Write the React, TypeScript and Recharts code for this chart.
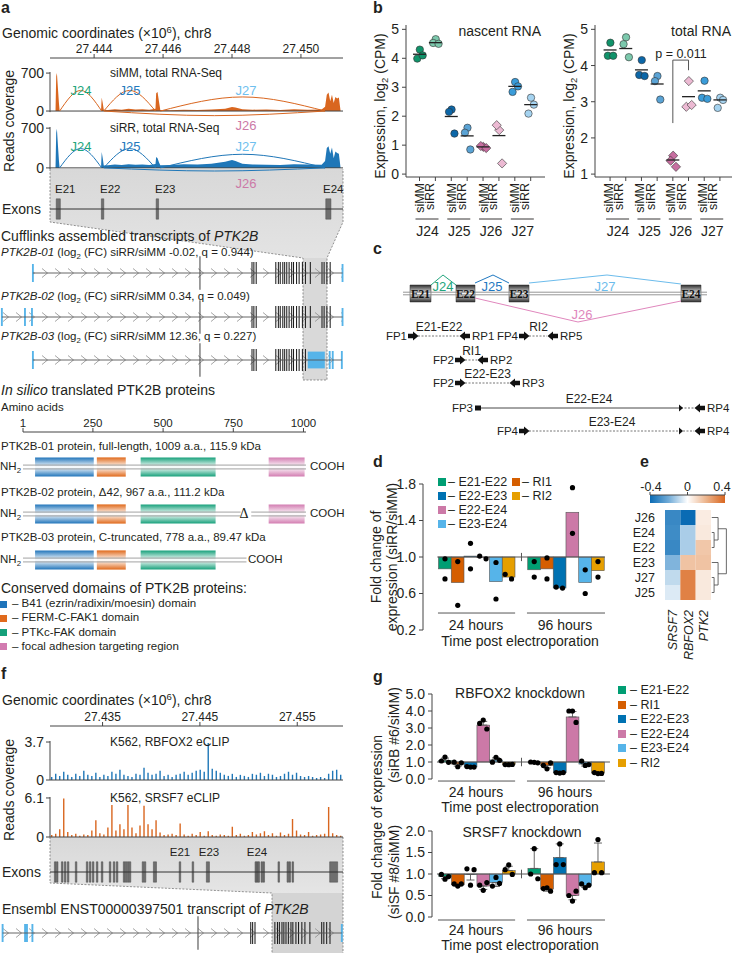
import React from "react";
import {
  ComposedChart,
  Area,
  Bar,
  Scatter,
  XAxis,
  YAxis,
  ReferenceLine,
  ReferenceArea,
  Cell,
  ErrorBar,
} from "recharts";

const FONT = "'Liberation Sans', Arial, Helvetica, sans-serif";
const SERIF = "'Liberation Serif', 'Times New Roman', serif";
const INK = "#231f20";
const AXIS = "#444";

const GREEN = "#009E73";
const ORANGE = "#D55E00";
const DBLUE = "#0072B2";
const PINK = "#CC79A7";
const LBLUE = "#56B4E9";
const YELLOW = "#E69F00";

// ---------- a: RNA-seq coverage around E21-E24 (chr8, Mb)
const aWindow = [27.44272, 27.45122];
const aTicks = [27.444, 27.446, 27.448, 27.45];
const covPos = [
  27.44275, 27.44288, 27.4429, 27.44292, 27.44295, 27.44298, 27.443, 27.4442, 27.44422, 27.44425,
  27.44428, 27.4444, 27.4446, 27.4448, 27.445, 27.4452, 27.4454, 27.4456, 27.44578, 27.4458,
  27.44584, 27.44588, 27.44592, 27.4462, 27.4466, 27.447, 27.4474, 27.4478, 27.448, 27.4481,
  27.4483, 27.4486, 27.449, 27.4494, 27.4498, 27.4502, 27.4506, 27.4507, 27.45075, 27.4508,
  27.45085, 27.4509, 27.45095, 27.451, 27.45105, 27.4511, 27.45115,
];
const covSiMM = [
  0, 0, 640, 700, 420, 140, 0, 0, 250, 150, 25, 20, 35, 25, 40, 30, 35, 25, 40, 330, 350, 180, 20, 15,
  25, 20, 30, 40, 75, 65, 35, 25, 30, 20, 35, 25, 30, 80, 300, 340, 180, 300, 150, 260, 230, 250, 0,
];
const covSiRR = [
  0, 0, 620, 690, 400, 120, 0, 0, 280, 170, 40, 45, 60, 50, 65, 55, 60, 50, 70, 190, 170, 100, 45, 50,
  65, 60, 75, 110, 140, 120, 75, 60, 55, 50, 65, 60, 55, 120, 350, 380, 250, 360, 170, 290, 260, 250, 0,
];
const juncNames = ["J24", "J25", "J27", "J26"];
const juncStart = [27.443, 27.44428, 27.44592, 27.44428];
const juncEnd = [27.44422, 27.44578, 27.4507, 27.4507];
const juncHeightMM = [380, 380, 260, -85];
const juncHeightRR = [340, 340, 240, -55];
const aExonStart = [27.4429, 27.44421, 27.4458, 27.45072];
const aExonEnd = [27.44302, 27.44428, 27.44587, 27.45087];

// transcripts, kb along the PTK2B gene
const ptk2bCds = [
  106.0, 106.8, 107.8, 116.2, 117.3, 118.1, 119.2, 120.0, 120.9, 121.9, 123.0, 123.8, 125.1, 126.2,
  127.6, 128.9, 131.0, 136.0, 136.9, 138.1, 139.5,
];
const ptk2bLongExon = 83.7;
const tx01Utr = [12.1, 144.8];
const tx02Utr = [-1.2, 8.7, 11.7, 144.8];
const tx03Utr = [12.1, 139.3, 140.6, 144.5];
const tx03Box = [129.9, 137.2];
const ensemblUtr = [1.1, 10.6, 11.4, 13.7, 144.5];

// proteins (amino acids)
const domainNames = [
  "B41 (ezrin/radixin/moesin) domain",
  "FERM-C-FAK1 domain",
  "PTKc-FAK domain",
  "focal adhesion targeting region",
];
const domainColors = ["#1f74ba", "#e06a1c", "#15a07a", "#d27bb0"];
const domStart = [44, 264, 420, 876];
const domEnd = [253, 367, 687, 1004];

// ---------- b: junction expression, log2 CPM
const bJunctions = ["J24", "J25", "J26", "J27"];
const bConditions = ["siMM", "siRR"];
const nascentRNA = [
  [4.3, 3.99, 4.1], [4.66, 4.53, 4.5], [2.23, 2.15, 1.4], [1.6, 1.43, 0.85],
  [0.94, 0.97, 0.9], [1.52, 1.69, 0.37], [3.18, 2.84, 3.03], [2.64, 2.09, 2.4],
];
const nascentMean = [4.14, 4.54, 1.99, 1.32, 0.94, 1.33, 3.03, 2.4];
const totalRNA = [
  [4.63, 4.27, 4.27], [4.78, 4.59, 4.23], [4.15, 3.74, 3.71], [3.71, 3.57, 3.06],
  [1.51, 1.37, 1.2], [3.57, 2.86, 2.91], [3.58, 3.11, 3.08], [3.11, 2.83, 3.05],
];
const totalMean = [4.43, 4.47, 3.88, 3.49, 1.39, 3.14, 3.3, 3.05];
const bColors = ["#10936a", "#7cc9ad", "#0c67a8", "#5aa3d5", "#c76ea0", "#ecbad3", "#3a9cd9", "#a5d3f0"];
const bJitter = [0.02, -0.14, 0.2];

// ---------- d, g: RT-qPCR fold changes
const amplicons = ["E21-E22", "RI1", "E22-E23", "E22-E24", "E23-E24", "RI2"];
const ampColors = [GREEN, ORANGE, DBLUE, PINK, LBLUE, YELLOW];
const dFold24 = [0.87, 0.72, 1.01, 0.995, 0.73, 0.78];
const dFold96 = [0.86, 0.87, 0.66, 1.49, 0.72, 0.85];
const dReps24 = [[0.98, 0.76], [0.95, 0.47], [1.15, 0.87], [1.01, 0.98], [0.94, 0.54], [0.81, 0.76]];
const dReps96 = [[0.95, 0.78], [0.99, 0.76], [0.67, 0.66], [1.76, 1.26], [0.86, 0.6], [0.95, 0.78]];

const rbMean24 = [1.1, 0.88, 0.71, 3.17, 1.12, 0.85];
const rbMean96 = [0.98, 0.8, 0.37, 3.65, 0.88, 0.35];
const rbErr24 = [0.13, 0.12, 0.03, 0.22, 0.12, 0.02];
const rbErr96 = [0.03, 0.15, 0.02, 0.32, 0.12, 0.03];
const rbReps24 = [[1.06, 1.29, 0.98], [0.99, 0.72, 0.95], [0.73, 0.7, 0.7], [3.27, 3.47, 2.94], [0.99, 1.28, 1.1], [0.85, 0.84, 0.86]];
const rbReps96 = [[1.0, 0.98, 0.95], [0.8, 0.6, 0.95], [0.38, 0.35, 0.38], [4.0, 4.0, 3.33], [1.05, 0.8, 0.85], [0.38, 0.32, 0.33]];

const sfMean24 = [0.94, 0.75, 0.99, 0.72, 0.8, 1.08];
const sfMean96 = [1.13, 0.65, 1.38, 0.5, 0.73, 1.28];
const sfErr24 = [0.05, 0.03, 0.13, 0.08, 0.09, 0.1];
const sfErr96 = [0.46, 0.05, 0.32, 0.1, 0.04, 0.44];
const sfReps24 = [[0.99, 0.88, 0.94], [0.77, 0.72, 0.77], [1.12, 0.74, 1.1], [0.74, 0.62, 0.8], [0.72, 0.92, 0.78], [1.1, 1.21, 0.99]];
const sfReps96 = [[1.0, 1.59, 0.89], [0.66, 0.68, 0.6], [1.22, 1.7, 1.22], [0.5, 0.37, 0.6], [0.77, 0.68, 0.74], [1.03, 1.8, 1.03]];

// ---------- e: heatmap of correlations
const heatRows = ["J26", "E24", "E22", "E23", "J27", "J25"];
const heatCols = ["SRSF7", "RBFOX2", "PTK2"];
const heatSRSF7 = [-0.31, -0.3, -0.31, -0.18, -0.09, -0.05];
const heatRBFOX2 = [-0.4, -0.12, -0.12, 0.16, 0.33, 0.33];
const heatPTK2 = [0.05, 0.06, 0.15, 0.16, 0.06, 0.06];
const dendroSegs = [
  [2.55, 1, 2.7, 1], [2.55, 2, 2.7, 2], [2.7, 1, 2.7, 2],
  [2.55, 0, 2.96, 0], [2.7, 1.5, 2.96, 1.5], [2.96, 0, 2.96, 1.5],
  [2.55, 4, 2.7, 4], [2.55, 5, 2.7, 5], [2.7, 4, 2.7, 5],
  [2.55, 3, 2.96, 3], [2.7, 4.5, 2.96, 4.5], [2.96, 3, 2.96, 4.5],
  [2.96, 0.75, 3.5, 0.75], [2.96, 3.75, 3.5, 3.75], [3.5, 0.75, 3.5, 3.75],
];

// ---------- f: eCLIP signal (bins across the window) and exons
const fWindow = [27.4296, 27.4597];
const fTicks = [27.435, 27.445, 27.455];
const rbfox2Clip = [
  0.3, 0.6, 0.4, 0.8, 0.5, 0.3, 0.6, 0.4, 0.9, 0.5, 0.4, 0.7, 0.3, 0.5, 0.4, 0.8, 0.6, 1.0, 0.5, 0.4,
  0.3, 0.6, 0.5, 1.2, 0.7, 0.5, 0.6, 0.9, 0.4, 0.5, 0.3, 0.5, 0.6, 0.8, 0.5, 0.7, 0.9, 1.0, 0.8, 3.6,
  1.1, 0.9, 0.7, 0.5, 0.4, 0.6, 0.3, 0.5, 0.4, 0.3, 0.6, 0.5, 0.7, 0.4, 0.6, 0.5, 0.3, 0.4, 0.6, 0.8,
  0.5, 0.7, 0.4, 0.3, 0.4, 0.3, 0.2, 0.3, 0.2, 0.6, 0.9, 1.0, 0.5,
];
const srsf7Clip = [
  0.3, 0.5, 1.2, 6.0, 0.8, 0.3, 0.5, 0.2, 0.4, 0.3, 1.0, 2.6, 0.6, 0.4, 1.5, 5.0, 1.0, 2.0, 1.2, 5.0,
  1.5, 0.6, 1.8, 4.9, 2.0, 1.2, 2.6, 0.7, 0.3, 0.4, 0.5, 0.3, 2.1, 0.4, 0.2, 0.5, 0.3, 0.8, 0.2, 0.9,
  0.3, 0.2, 0.4, 0.3, 0.2, 1.6, 0.3, 0.5, 0.2, 0.3, 0.8, 0.4, 0.6, 0.9, 0.3, 0.6, 0.2, 0.7, 0.3, 0.5,
  2.8, 1.0, 0.4, 0.3, 0.8, 0.2, 0.3, 0.4, 0.5, 4.7, 0.6, 0.3, 0.2,
];
const fExonStart = [
  27.43005, 27.43026, 27.43077, 27.43107, 27.43138, 27.4322, 27.43333, 27.43364, 27.43395, 27.43436,
  27.43487, 27.43569, 27.4361, 27.43641, 27.43713, 27.43733, 27.43754, 27.43774, 27.43907, 27.43928,
  27.44022, 27.44287, 27.4442, 27.44566, 27.45066, 27.45082, 27.45097, 27.45128, 27.45148, 27.45302,
  27.45395, 27.45415, 27.45446, 27.45833,
];
const fExonEnd = [
  27.43021, 27.43042, 27.43093, 27.43123, 27.43154, 27.43236, 27.43349, 27.4338, 27.43411, 27.43452,
  27.43503, 27.43585, 27.43626, 27.43657, 27.43729, 27.43749, 27.4377, 27.4379, 27.43923, 27.43944,
  27.44054, 27.44303, 27.44436, 27.44598, 27.45082, 27.45098, 27.45113, 27.45144, 27.45164, 27.45318,
  27.45411, 27.45431, 27.45462, 27.45915,
];

// ---------- helpers
const Sub = ({ children }: any) => (
  <span style={{ fontSize: "0.68em", verticalAlign: "-0.3em", lineHeight: 0 }}>{children}</span>
);
const Sup = ({ children }: any) => (
  <span style={{ fontSize: "0.68em", verticalAlign: "0.55em", lineHeight: 0 }}>{children}</span>
);

function Tx({ x, y, s = 12, a = "start", r = 0, c = INK, b = false, it = false, ff = FONT, children }: any) {
  const tx = a === "start" ? "0%" : a === "middle" ? "-50%" : "-100%";
  return (
    <div
      style={{
        position: "absolute",
        left: x,
        top: y,
        transformOrigin: "0 0",
        transform: `rotate(${r}deg) translate(${tx}, -50%)`,
        fontSize: s,
        lineHeight: 1,
        color: c,
        fontWeight: b ? 700 : 400,
        fontStyle: it ? "italic" : "normal",
        fontFamily: ff,
        whiteSpace: "nowrap",
      }}
    >
      {children}
    </div>
  );
}

const Abs = ({ x, y, children }: any) => (
  <div style={{ position: "absolute", left: x, top: y }}>{children}</div>
);

const Sq = ({ x, y, c, s = 8 }: any) => (
  <div style={{ position: "absolute", left: x, top: y - s / 2, width: s, height: s, background: c }} />
);

const M0 = { top: 0, right: 0, bottom: 0, left: 0 };
const tickStyle = (s: number) => ({ fill: INK, fontSize: s, fontFamily: FONT });

const heatStops: [number, number[]][] = [
  [-0.4, [10, 107, 180]],
  [-0.2, [114, 172, 216]],
  [0, [255, 255, 255]],
  [0.2, [236, 180, 140]],
  [0.4, [217, 102, 31]],
];
function heatColor(v: number) {
  for (let i = 0; i < heatStops.length - 1; i++) {
    const [a, ca] = heatStops[i];
    const [b, cb] = heatStops[i + 1];
    if (v <= b || i === heatStops.length - 2) {
      const t = Math.max(0, Math.min(1, (v - a) / (b - a)));
      const c = ca.map((q, k) => Math.round(q + (cb[k] - q) * t));
      return `rgb(${c[0]},${c[1]},${c[2]})`;
    }
  }
  return "#fff";
}

function Defs() {
  return (
    <svg width={0} height={0} style={{ position: "absolute" }}>
      <defs>
        {domainColors.map((c, i) => (
          <linearGradient key={i} id={`dom${i}`} x1="0" y1="0" x2="0" y2="1">
            <stop offset="0" stopColor={c} />
            <stop offset="0.5" stopColor="#ffffff" />
            <stop offset="1" stopColor={c} />
          </linearGradient>
        ))}
        <linearGradient id="exonGrad" x1="0" y1="0" x2="0" y2="1">
          <stop offset="0" stopColor="#2e2e2e" />
          <stop offset="0.35" stopColor="#b5b5b5" />
          <stop offset="0.5" stopColor="#efefef" />
          <stop offset="0.65" stopColor="#b5b5b5" />
          <stop offset="1" stopColor="#2e2e2e" />
        </linearGradient>
        <linearGradient id="heatBar" x1="0" y1="0" x2="1" y2="0">
          {heatStops.map(([v, c], i) => (
            <stop key={i} offset={(v + 0.4) / 0.8} stopColor={`rgb(${c[0]},${c[1]},${c[2]})`} />
          ))}
        </linearGradient>
        <linearGradient id="shade" x1="0" y1="0" x2="0" y2="1">
          <stop offset="0" stopColor="#d8d8d8" />
          <stop offset="1" stopColor="#f3f3f3" />
        </linearGradient>
        <pattern id="chev" width={13} height={24} patternUnits="userSpaceOnUse">
          <path d="M3 7.5 L8.5 12 L3 16.5" stroke="#8c8c8c" strokeWidth={0.8} fill="none" />
        </pattern>
      </defs>
    </svg>
  );
}

function Shading() {
  return (
    <svg width={732} height={953} style={{ position: "absolute", left: 0, top: 0 }}>
      <polygon
        points="50,169 343,169 343,222 327,258 327,380 303,380 303,258 50,222"
        fill="url(#shade)"
      />
      <rect x={303} y={258} width={24} height={122} fill="#d9d9d9" />
      <polyline
        points="50,169 50,222 303,258 303,380 327,380 327,258 343,222 343,169"
        fill="none"
        stroke="#777"
        strokeWidth={0.8}
        strokeDasharray="2 1.5"
      />
      <polygon points="50,837 343,837 343,953 272,953 272,893 50,883" fill="url(#shade)" />
      <rect x={272} y={893} width={71} height={60} fill="#d4d4d4" />
      <polyline
        points="50,837 50,883 272,893 272,953"
        fill="none"
        stroke="#777"
        strokeWidth={0.8}
        strokeDasharray="2 1.5"
      />
      <line x1={343} y1={837} x2={343} y2={953} stroke="#777" strokeWidth={0.8} strokeDasharray="2 1.5" />
    </svg>
  );
}

// genomic / amino-acid axis with labels above
function TopAxis({ x, y, width, domain, ticks, fmt, size = 12 }: any) {
  return (
    <Abs x={x} y={y}>
      <ComposedChart width={width} height={26} margin={M0}>
        <XAxis
          orientation="top"
          type="number"
          dataKey="x"
          domain={domain}
          ticks={ticks}
          allowDataOverflow
          interval={0}
          height={25}
          tickSize={4}
          tickMargin={1}
          tickFormatter={fmt}
          stroke={AXIS}
          tick={tickStyle(size)}
        />
        <YAxis hide type="number" dataKey="y" domain={[0, 1]} />
      </ComposedChart>
    </Abs>
  );
}

function CoverageTrack({ top, height, domainY, values, heights, color }: any) {
  const data = covPos.map((x, i) => ({ x, y: values[i] }));
  return (
    <Abs x={0} y={top}>
      <ComposedChart width={343} height={height} margin={M0} data={data}>
        <XAxis hide type="number" dataKey="x" domain={aWindow} allowDataOverflow />
        <YAxis
          type="number"
          dataKey="y"
          width={50}
          domain={domainY}
          allowDataOverflow
          ticks={[0, 700]}
          interval={0}
          axisLine={false}
          tickLine={{ stroke: AXIS }}
          tickSize={4}
          tickMargin={2}
          tick={tickStyle(14)}
        />
        <ReferenceLine
          segment={[{ x: aWindow[0], y: -20 }, { x: aWindow[0], y: 720 }]}
          stroke={AXIS}
          ifOverflow="visible"
        />
        <Area type="linear" dataKey="y" stroke="none" fill={color} fillOpacity={1} baseValue={0} isAnimationActive={false} dot={false} activeDot={false} />
        <ReferenceLine y={0} stroke={AXIS} />
        {juncStart.map((s, i) => (
          <Scatter
            key={i}
            data={[{ x: s, y: 0 }, { x: (s + juncEnd[i]) / 2, y: heights[i] }, { x: juncEnd[i], y: 0 }]}
            line={{ stroke: color, strokeWidth: 1 }}
            lineJointType="monotoneX"
            shape={() => <g />}
            isAnimationActive={false}
          />
        ))}
      </ComposedChart>
    </Abs>
  );
}

function ExonTrack({ top, domain, starts, ends }: any) {
  return (
    <Abs x={50} y={top}>
      <ComposedChart width={293} height={24} margin={M0}>
        <XAxis hide type="number" dataKey="x" domain={domain} allowDataOverflow />
        <YAxis hide type="number" dataKey="y" domain={[-1, 1]} allowDataOverflow />
        <ReferenceLine y={0} stroke="#333" strokeWidth={1} />
        {starts.map((s: number, i: number) => (
          <ReferenceArea key={i} x1={s} x2={ends[i]} y1={-0.85} y2={0.85} fill="#6f6f6f" stroke="#4a4a4a" strokeWidth={0.5} fillOpacity={1} ifOverflow="visible" />
        ))}
      </ComposedChart>
    </Abs>
  );
}

function Transcript({ top, domain, span, cds, utr, box }: any) {
  return (
    <Abs x={0} y={top - 12}>
      <ComposedChart width={343} height={24} margin={M0}>
        <XAxis hide type="number" dataKey="x" domain={domain} allowDataOverflow />
        <YAxis hide type="number" dataKey="y" domain={[-1, 1]} allowDataOverflow />
        <ReferenceArea x1={span[0]} x2={span[1]} y1={-0.42} y2={0.42} fill="url(#chev)" fillOpacity={1} stroke="none" />
        <ReferenceLine segment={[{ x: span[0], y: 0 }, { x: span[1], y: 0 }]} stroke="#555" strokeWidth={0.9} />
        <ReferenceArea x1={ptk2bLongExon - 0.2} x2={ptk2bLongExon + 0.2} y1={-1.4} y2={1.4} fill="#333" fillOpacity={1} stroke="none" ifOverflow="visible" />
        {cds.map((k: number, i: number) => (
          <ReferenceArea key={`c${i}`} x1={k - 0.22} x2={k + 0.22} y1={-0.92} y2={0.92} fill="#1a1a1a" fillOpacity={1} stroke="none" ifOverflow="visible" />
        ))}
        {box && (
          <ReferenceArea x1={box[0]} x2={box[1]} y1={-0.7} y2={0.7} fill={LBLUE} fillOpacity={1} stroke="none" />
        )}
        {utr.map((k: number, i: number) => (
          <ReferenceArea key={`u${i}`} x1={k - 0.4} x2={k + 0.4} y1={-0.75} y2={0.75} fill={LBLUE} fillOpacity={1} stroke="none" ifOverflow="visible" />
        ))}
      </ComposedChart>
    </Abs>
  );
}

function Protein({ y, backbone, domains }: any) {
  return (
    <Abs x={23} y={y - 12}>
      <ComposedChart width={283} height={24} margin={M0}>
        <XAxis hide type="number" dataKey="x" domain={[1, 1009]} allowDataOverflow />
        <YAxis hide type="number" dataKey="y" domain={[-1, 1]} allowDataOverflow />
        {backbone.map((b: number[], i: number) => (
          <ReferenceLine key={`a${i}`} segment={[{ x: b[0], y: 0.16 }, { x: b[1], y: 0.16 }]} stroke="#8a8a8a" strokeWidth={0.8} ifOverflow="visible" />
        ))}
        {backbone.map((b: number[], i: number) => (
          <ReferenceLine key={`b${i}`} segment={[{ x: b[0], y: -0.16 }, { x: b[1], y: -0.16 }]} stroke="#8a8a8a" strokeWidth={0.8} ifOverflow="visible" />
        ))}
        {domains.map((d: number) => (
          <ReferenceArea key={d} x1={domStart[d]} x2={domEnd[d]} y1={-0.8} y2={0.8} fill={`url(#dom${d})`} fillOpacity={1} stroke="none" ifOverflow="visible" />
        ))}
      </ComposedChart>
    </Abs>
  );
}

function PanelA() {
  const juncColors = ["#1fa57c", "#2379bd", "#6fbfee", PINK];
  return (
    <>
      <Tx x={1} y={8} s={16} b>a</Tx>
      <Tx x={2} y={33} s={14}>
        Genomic coordinates (×10<Sup>6</Sup>), chr8
      </Tx>
      <TopAxis x={50} y={33} width={293} domain={aWindow} ticks={aTicks} fmt={(v: number) => v.toFixed(3)} size={12} />
      <CoverageTrack top={72} height={45} domainY={[-110, 720]} values={covSiMM} heights={juncHeightMM} color="#d9661f" />
      <CoverageTrack top={127} height={46} domainY={[-90, 720]} values={covSiRR} heights={juncHeightRR} color="#1f77b8" />
      <Tx x={110} y={73} s={12}>siMM, total RNA-Seq</Tx>
      <Tx x={110} y={128} s={12}>siRR, total RNA-Seq</Tx>
      {[90, 146].map((yy) => (
        <React.Fragment key={yy}>
          <Tx x={81} y={yy} s={13} a="middle" c={juncColors[0]}>{juncNames[0]}</Tx>
          <Tx x={130} y={yy} s={13} a="middle" c={juncColors[1]}>{juncNames[1]}</Tx>
          <Tx x={246} y={yy} s={13} a="middle" c={juncColors[2]}>{juncNames[2]}</Tx>
        </React.Fragment>
      ))}
      <Tx x={246} y={125} s={13} a="middle" c={juncColors[3]}>{juncNames[3]}</Tx>
      <Tx x={246} y={183} s={13} a="middle" c={juncColors[3]}>{juncNames[3]}</Tx>
      <Tx x={9} y={121} s={14} a="middle" r={-90}>Reads coverage</Tx>

      <ExonTrack top={197} domain={aWindow} starts={aExonStart} ends={aExonEnd} />
      {["E21", "E22", "E23", "E24"].map((e, i) => (
        <Tx key={e} x={[55, 100, 155, 323][i]} y={190} s={11.5}>{e}</Tx>
      ))}
      <Tx x={2} y={209} s={14}>Exons</Tx>

      <Tx x={1} y={236} s={14}>
        Cufflinks assembled transcripts of <i>PTK2B</i>
      </Tx>
      <Tx x={1} y={253} s={11.5}>
        <i>PTK2B-01</i> (log<Sub>2</Sub> (FC) siRR/siMM -0.02, q = 0.944)
      </Tx>
      <Transcript top={273} domain={[-2, 145]} span={[12.1, 144.8]} cds={ptk2bCds} utr={tx01Utr} />
      <Tx x={1} y={297} s={11.5}>
        <i>PTK2B-02</i> (log<Sub>2</Sub> (FC) siRR/siMM 0.34, q = 0.049)
      </Tx>
      <Transcript top={317} domain={[-2, 145]} span={[-1.2, 144.8]} cds={ptk2bCds} utr={tx02Utr} />
      <Tx x={1} y={337} s={11.5}>
        <i>PTK2B-03</i> (log<Sub>2</Sub> (FC) siRR/siMM 12.36, q = 0.227)
      </Tx>
      <Transcript top={360} domain={[-2, 145]} span={[12.1, 144.5]} cds={ptk2bCds.filter((k) => k < 129.5)} utr={tx03Utr} box={tx03Box} />

      <Tx x={1} y={390} s={14}>
        <i>In silico</i> translated PTK2B proteins
      </Tx>
      <Tx x={1} y={408} s={11.5}>Amino acids</Tx>
      <TopAxis x={23} y={407} width={283} domain={[1, 1009]} ticks={[1, 250, 500, 750, 1000]} fmt={(v: number) => String(v)} size={11.5} />

      <Tx x={1} y={447} s={11.5}>PTK2B-01 protein, full-length, 1009 a.a., 115.9 kDa</Tx>
      <Tx x={0} y={467} s={11.5}>NH<Sub>2</Sub></Tx>
      <Protein y={467} backbone={[[1, 1009]]} domains={[0, 1, 2, 3]} />
      <Tx x={310} y={467} s={11.5}>COOH</Tx>

      <Tx x={1} y={493} s={11.5}>PTK2B-02 protein, Δ42, 967 a.a., 111.2 kDa</Tx>
      <Tx x={0} y={514} s={11.5}>NH<Sub>2</Sub></Tx>
      <Protein y={514} backbone={[[1, 776], [814, 1009]]} domains={[0, 1, 2, 3]} />
      <Tx x={244} y={514} s={14} a="middle" ff={SERIF}>Δ</Tx>
      <Tx x={310} y={514} s={11.5}>COOH</Tx>

      <Tx x={1} y={538} s={11.5}>PTK2B-03 protein, C-truncated, 778 a.a., 89.47 kDa</Tx>
      <Tx x={0} y={560} s={11.5}>NH<Sub>2</Sub></Tx>
      <Protein y={560} backbone={[[1, 797]]} domains={[0, 1, 2]} />
      <Tx x={248} y={560} s={11.5}>COOH</Tx>

      <Tx x={1} y={588} s={14}>Conserved domains of PTK2B proteins:</Tx>
      {domainNames.map((n, i) => (
        <React.Fragment key={n}>
          <Sq x={0} y={604 + i * 14.3} c={domainColors[i]} s={7} />
          <Tx x={12} y={604 + i * 14.3} s={11.5}>– {n}</Tx>
        </React.Fragment>
      ))}
    </>
  );
}

function ClipTrack({ top, height, values, max, tick, color }: any) {
  const data = values.map((v: number, i: number) => ({ i, y: v }));
  return (
    <Abs x={0} y={top}>
      <ComposedChart width={343} height={height} margin={M0} data={data} barCategoryGap={0}>
        <XAxis hide dataKey="i" type="category" />
        <YAxis
          type="number"
          width={50}
          domain={[0, max]}
          allowDataOverflow
          ticks={[0, tick]}
          interval={0}
          axisLine={{ stroke: AXIS }}
          tickLine={{ stroke: AXIS }}
          tickSize={4}
          tickMargin={2}
          tick={tickStyle(14)}
        />
        <Bar dataKey="y" fill={color} barSize={1.4} isAnimationActive={false} />
        <ReferenceLine y={0} stroke={AXIS} />
      </ComposedChart>
    </Abs>
  );
}

function PanelF() {
  return (
    <>
      <Tx x={1} y={674} s={16} b>f</Tx>
      <Tx x={2} y={700} s={14}>
        Genomic coordinates (×10<Sup>6</Sup>), chr8
      </Tx>
      <TopAxis x={50} y={701} width={293} domain={fWindow} ticks={fTicks} fmt={(v: number) => v.toFixed(3)} size={12} />
      <ClipTrack top={741} height={39} values={rbfox2Clip} max={3.8} tick={3.7} color="#1f77b8" />
      <ClipTrack top={797} height={40} values={srsf7Clip} max={6.25} tick={6.1} color="#d9661f" />
      <Tx x={110} y={742} s={12}>K562, RBFOX2 eCLIP</Tx>
      <Tx x={110} y={798} s={12}>K562, SRSF7 eCLIP</Tx>
      <Tx x={9} y={790} s={14} a="middle" r={-90}>Reads coverage</Tx>
      <ExonTrack top={860} domain={fWindow} starts={fExonStart} ends={fExonEnd} />
      <Tx x={180} y={853} s={11.5} a="middle">E21</Tx>
      <Tx x={209} y={853} s={11.5} a="middle">E23</Tx>
      <Tx x={257} y={853} s={11.5} a="middle">E24</Tx>
      <Tx x={2} y={872} s={14}>Exons</Tx>
      <Tx x={2} y={909} s={14}>
        Ensembl ENST00000397501 transcript of <i>PTK2B</i>
      </Tx>
      <Transcript top={933} domain={[0, 145]} span={[1.1, 144.5]} cds={ptk2bCds} utr={ensemblUtr} />
    </>
  );
}

// ---------- b
function bTick(dxMM: number, dxRR: number) {
  return (props: any) => {
    const { x, y, payload } = props;
    const i = Math.round(payload.value);
    const even = i % 2 === 0;
    return (
      <g>
        <text
          transform={`translate(${x + (even ? dxMM : dxRR)},${y}) rotate(-90)`}
          textAnchor="end"
          dy="0.36em"
          fontSize={12.5}
          fontFamily={FONT}
          fill={INK}
        >
          {bConditions[i % 2]}
        </text>
        {even && <line x1={x - 4} x2={x + 19} y1={y + 36} y2={y + 36} stroke={INK} strokeWidth={0.9} />}
        {even && (
          <text x={x + 8} y={y + 48} textAnchor="middle" dominantBaseline="central" fontSize={14} fontFamily={FONT} fill={INK}>
            {bJunctions[i / 2]}
          </text>
        )}
      </g>
    );
  };
}

const bShape = (p: any) => {
  const { cx, cy, payload } = p;
  const fill = bColors[payload.g];
  if (payload.g === 4 || payload.g === 5) {
    const r = 4.6;
    return <polygon points={`${cx},${cy - r} ${cx + r},${cy} ${cx},${cy + r} ${cx - r},${cy}`} fill={fill} stroke="#333" strokeWidth={0.6} />;
  }
  return <circle cx={cx} cy={cy} r={3.7} fill={fill} stroke="#333" strokeWidth={0.6} />;
};

function ExprPlot({ x, width, domainX, domainY, ticksY, vals, means, dx, bracket }: any) {
  const pts = vals.flatMap((arr: number[], g: number) => arr.map((v, r) => ({ x: g + bJitter[r], y: v, g })));
  const mean = means.map((m: number, g: number) => ({ x: g, y: m }));
  return (
    <Abs x={x} y={15}>
      <ComposedChart width={width} height={224} margin={{ top: 10, right: 0, bottom: 0, left: 0 }}>
        <XAxis
          type="number"
          dataKey="x"
          domain={domainX}
          allowDataOverflow
          ticks={[0, 1, 2, 3, 4, 5, 6, 7]}
          interval={0}
          height={62}
          tickSize={4}
          tickMargin={2}
          stroke={AXIS}
          tick={bTick(dx[0], dx[1])}
        />
        <YAxis
          type="number"
          dataKey="y"
          width={45}
          domain={domainY}
          allowDataOverflow
          ticks={ticksY}
          interval={0}
          tickSize={4}
          tickMargin={3}
          stroke={AXIS}
          tick={tickStyle(14)}
        />
        {bracket &&
          bracket.map((s: number[], i: number) => (
            <ReferenceLine key={i} segment={[{ x: s[0], y: s[1] }, { x: s[2], y: s[3] }]} stroke="#555" strokeWidth={1} />
          ))}
        <Scatter data={pts} shape={bShape} isAnimationActive={false} />
        <Scatter
          data={mean}
          shape={(p: any) => <line x1={p.cx - 6.5} x2={p.cx + 6.5} y1={p.cy} y2={p.cy} stroke="#222" strokeWidth={1.3} />}
          isAnimationActive={false}
        />
      </ComposedChart>
    </Abs>
  );
}

function PanelB() {
  return (
    <>
      <Tx x={373} y={8} s={16} b>b</Tx>
      <ExprPlot x={361} width={184} domainX={[-0.85, 7.9]} domainY={[-0.1, 5.15]} ticksY={[0, 1, 2, 3, 4, 5]} vals={nascentRNA} means={nascentMean} dx={[0, -6]} />
      <ExprPlot
        x={550}
        width={182}
        domainX={[-0.96, 7.77]}
        domainY={[0.92, 5.12]}
        ticksY={[1, 2, 3, 4, 5]}
        vals={totalRNA}
        means={totalMean}
        dx={[-2, -7]}
        bracket={[[4, 2.41, 4, 4.15], [4, 4.15, 5, 4.15], [5, 4.15, 5, 3.87]]}
      />
      <Tx x={541} y={31} s={14} a="end">nascent RNA</Tx>
      <Tx x={731} y={31} s={14} a="end">total RNA</Tx>
      <Tx x={681} y={54} s={12.5} a="middle">p = 0.011</Tx>
      <Tx x={380} y={106} s={14} a="middle" r={-90}>
        Expression, log<Sub>2</Sub> (CPM)
      </Tx>
      <Tx x={569} y={106} s={14} a="middle" r={-90}>
        Expression, log<Sub>2</Sub> (CPM)
      </Tx>
    </>
  );
}

// ---------- c
const cExonNames = ["E21", "E22", "E23", "E24"];
const cExonStart = [50, 96, 149, 321];
const cExonEnd = [71, 115, 169, 341];
const cJunctions = [
  { name: "J24", pts: [[71, 20], [83, 10], [96, 20]], label: [83, 21], c: "#22a57d" },
  { name: "J25", pts: [[115, 18], [133, 10], [149, 18]], label: [132, 21], c: "#1f78c1" },
  { name: "J27", pts: [[169, 18], [247, 10], [321, 19]], label: [245, 21], c: "#6cbcec" },
  { name: "J26", pts: [[115, 33], [218, 57], [321, 36]], label: [222, 49], c: "#e087bd" },
];
const primerFwd = ["FP1", "FP4", "FP2", "FP2", "FP3", "FP4"];
const primerRev = ["RP1", "RP5", "RP2", "RP3", "RP4", "RP4"];
const ampliconName = ["E21-E22", "RI2", "RI1", "E22-E23", "E22-E24", "E23-E24"];
const primerFwdPos = [53, 164, 100, 100, 118, 164];
const primerRevPos = [105, 193, 123, 155, 340, 340];
const primerRowY = [71, 71, 95, 118, 143, 166];
const primerJunction = [0, 0, 0, 0, 321, 321];

function arrowPts(cx: number, cy: number, dir: number) {
  const pts = [[-5, -2.2], [0, -2.2], [0, -4.6], [5.5, 0], [0, 4.6], [0, 2.2], [-5, 2.2]];
  return pts.map(([a, b]) => `${cx + dir * a},${cy + b}`).join(" ");
}

const cShape = (p: any) => {
  const { cx, cy, payload: d } = p;
  const txt = (x: number, y: number, anchor: string, t: string, fill = INK, size = 11.5) => (
    <text x={x} y={y} textAnchor={anchor} dominantBaseline="central" fontSize={size} fontFamily={FONT} fill={fill}>
      {t}
    </text>
  );
  if (d.kind === "fwd")
    return (
      <g>
        <polygon points={arrowPts(cx, cy, 1)} fill="#111" />
        {txt(cx - 6, cy, "end", d.text)}
      </g>
    );
  if (d.kind === "rev")
    return (
      <g>
        <polygon points={arrowPts(cx, cy, -1)} fill="#111" />
        {txt(cx + 7, cy, "start", d.text)}
      </g>
    );
  if (d.kind === "sq")
    return (
      <g>
        <rect x={cx - 3} y={cy - 2.5} width={6} height={5} fill="#111" />
        {txt(cx - 5, cy, "end", d.text)}
      </g>
    );
  if (d.kind === "mark") return <polygon points={`${cx - 2},${cy - 3.5} ${cx + 2},${cy} ${cx - 2},${cy + 3.5}`} fill="#111" />;
  if (d.kind === "lbl") return txt(cx, cy, "middle", d.text, d.c || INK, d.s || 12);
  return <g />;
};

function PanelC() {
  const shapes: any[] = [];
  primerFwd.forEach((f, i) => {
    const y = primerRowY[i];
    shapes.push({ x: primerFwdPos[i], y, kind: f === "FP3" ? "sq" : "fwd", text: f });
    shapes.push({ x: primerRevPos[i], y, kind: "rev", text: primerRev[i] });
    shapes.push({ x: (primerFwdPos[i] + primerRevPos[i]) / 2, y: y - 9, kind: "lbl", text: ampliconName[i] });
    if (primerJunction[i]) shapes.push({ x: primerJunction[i], y, kind: "mark" });
  });
  cJunctions.forEach((j) => shapes.push({ x: j.label[0], y: j.label[1], kind: "lbl", text: j.name, c: j.c, s: 13 }));
  return (
    <>
      <Tx x={373} y={249} s={16} b>c</Tx>
      <Abs x={360} y={265}>
        <ComposedChart width={372} height={175} margin={M0}>
          <XAxis hide type="number" dataKey="x" domain={[0, 372]} allowDataOverflow />
          <YAxis hide type="number" dataKey="y" domain={[0, 175]} reversed allowDataOverflow />
          <ReferenceLine segment={[{ x: 43, y: 27.2 }, { x: 347, y: 27.2 }]} stroke="#8a8a8a" strokeWidth={0.9} />
          <ReferenceLine segment={[{ x: 43, y: 29.8 }, { x: 347, y: 29.8 }]} stroke="#8a8a8a" strokeWidth={0.9} />
          {cJunctions.map((j) => (
            <Scatter
              key={j.name}
              data={j.pts.map(([x, y]) => ({ x, y }))}
              line={{ stroke: j.c, strokeWidth: 1 }}
              shape={() => <g />}
              isAnimationActive={false}
            />
          ))}
          {cExonNames.map((n, i) => (
            <ReferenceArea
              key={n}
              x1={cExonStart[i]}
              x2={cExonEnd[i]}
              y1={20}
              y2={37}
              fill="url(#exonGrad)"
              fillOpacity={1}
              stroke="#333"
              strokeWidth={0.5}
              label={{ value: n, position: "center", fill: "#111", fontSize: 11.5, fontWeight: 700, fontFamily: SERIF }}
            />
          ))}
          {primerFwd.map((f, i) => {
            const y = primerRowY[i];
            const a = primerFwdPos[i] + 5;
            const b = primerRevPos[i] - 6;
            if (f === "FP3")
              return (
                <React.Fragment key={i}>
                  <ReferenceLine segment={[{ x: a - 2, y }, { x: primerJunction[i], y }]} stroke="#333" strokeWidth={0.9} />
                  <ReferenceLine segment={[{ x: primerJunction[i], y }, { x: b, y }]} stroke="#555" strokeWidth={0.9} strokeDasharray="2 1.5" />
                </React.Fragment>
              );
            return <ReferenceLine key={i} segment={[{ x: a, y }, { x: b, y }]} stroke="#666" strokeWidth={0.9} strokeDasharray="2 1.5" />;
          })}
          <Scatter data={shapes} shape={cShape} isAnimationActive={false} />
        </ComposedChart>
      </Abs>
    </>
  );
}

// ---------- d & g
const BAR_W = 12.75;
const foldBars = (m24: number[], m96: number[]) => [
  ...m24.map((v, i) => ({ x: i, range: [1, v], c: ampColors[i] })),
  ...m96.map((v, i) => ({ x: i + 7, range: [1, v], c: ampColors[i] })),
];
const barShape = (p: any) => {
  const cx = p.x + p.width / 2;
  const y0 = Math.min(p.y, p.y + p.height);
  const h = Math.abs(p.height);
  return <rect x={cx - BAR_W / 2} y={y0} width={BAR_W} height={h} fill={p.fill} stroke="#555" strokeWidth={0.6} />;
};
const dotShape = (p: any) => <circle cx={p.cx} cy={p.cy} r={2.6} fill="#000" />;

function PanelD() {
  const bars = foldBars(dFold24, dFold96);
  const pts: any[] = [];
  [dReps24, dReps96].forEach((reps, gi) =>
    reps.forEach((vals, i) => {
      const close = Math.abs(vals[0] - vals[1]) < 0.06;
      vals.forEach((v, r) => pts.push({ x: i + gi * 7 + (close ? (r === 0 ? -0.28 : 0.22) : 0), y: v }));
    })
  );
  return (
    <>
      <Tx x={373} y={462} s={16} b>d</Tx>
      <Abs x={378} y={479}>
        <ComposedChart width={234} height={156} margin={{ top: 5, right: 0, bottom: 5, left: 0 }} data={bars}>
          <XAxis hide type="number" dataKey="x" domain={[-1.725, 13.1]} allowDataOverflow />
          <YAxis
            type="number"
            dataKey="y"
            width={45}
            domain={[0.2, 1.8]}
            allowDataOverflow
            ticks={[0.2, 0.6, 1.0, 1.4, 1.8]}
            interval={0}
            tickFormatter={(v: number) => v.toFixed(1)}
            tickSize={4}
            tickMargin={3}
            stroke={AXIS}
            tick={tickStyle(14)}
          />
          <Bar dataKey="range" shape={barShape} isAnimationActive={false}>
            {bars.map((b, i) => (
              <Cell key={i} fill={b.c} />
            ))}
          </Bar>
          <ReferenceLine segment={[{ x: -0.6, y: 1 }, { x: 12.55, y: 1 }]} stroke="#555" />
          <ReferenceLine segment={[{ x: 6, y: 0.955 }, { x: 6, y: 1.045 }]} stroke="#555" />
          <ReferenceLine segment={[{ x: -0.55, y: 0.386 }, { x: 5.5, y: 0.386 }]} stroke="#555" />
          <ReferenceLine segment={[{ x: 6.43, y: 0.386 }, { x: 12.55, y: 0.386 }]} stroke="#555" />
          <Scatter data={pts} shape={dotShape} isAnimationActive={false} />
        </ComposedChart>
      </Abs>
      <Tx x={476} y={625} s={14} a="middle">24 hours</Tx>
      <Tx x={565} y={625} s={14} a="middle">96 hours</Tx>
      <Tx x={520} y={641} s={14} a="middle">Time post electroporation</Tx>
      <Tx x={376} y={557} s={14} a="middle" r={-90}>Fold change of</Tx>
      <Tx x={392} y={557} s={14} a="middle" r={-90}>expression (siRR/siMM)</Tx>
      {[0, 2, 3, 4].map((k, r) => (
        <React.Fragment key={k}>
          <Sq x={438} y={482 + r * 14.1} c={ampColors[k]} />
          <Tx x={448} y={482 + r * 14.1} s={12.5}>– {amplicons[k]}</Tx>
        </React.Fragment>
      ))}
      {[1, 5].map((k, r) => (
        <React.Fragment key={k}>
          <Sq x={512} y={482 + r * 14.1} c={ampColors[k]} />
          <Tx x={522} y={482 + r * 14.1} s={12.5}>– {amplicons[k]}</Tx>
        </React.Fragment>
      ))}
    </>
  );
}

function FoldPanel({ top, bottom, domainY, ticksY, m24, m96, e24, e96, r24, r96, lineY }: any) {
  const bars = foldBars(m24, m96);
  const errs = [
    ...m24.map((v: number, i: number) => ({ x: i, y: v, err: v >= 1 ? [0, e24[i]] : [e24[i], 0] })),
    ...m96.map((v: number, i: number) => ({ x: i + 7, y: v, err: v >= 1 ? [0, e96[i]] : [e96[i], 0] })),
  ];
  const jit = [-0.28, 0, 0.28];
  const pts: any[] = [];
  [r24, r96].forEach((reps: number[][], gi: number) =>
    reps.forEach((vals, i) => vals.forEach((v, r) => pts.push({ x: i + gi * 7 + jit[r], y: v })))
  );
  const span = domainY[1] - domainY[0];
  return (
    <Abs x={387} y={top - 5}>
      <ComposedChart width={225} height={bottom - top + 10} margin={{ top: 5, right: 0, bottom: 5, left: 0 }} data={bars}>
        <XAxis hide type="number" dataKey="x" domain={[-1.02, 13.1]} allowDataOverflow />
        <YAxis
          type="number"
          dataKey="y"
          width={45}
          domain={domainY}
          allowDataOverflow
          ticks={ticksY}
          interval={0}
          tickFormatter={(v: number) => v.toFixed(1)}
          tickSize={4}
          tickMargin={3}
          stroke={AXIS}
          tick={tickStyle(14)}
        />
        <Bar dataKey="range" shape={barShape} isAnimationActive={false}>
          {bars.map((b, i) => (
            <Cell key={i} fill={b.c} />
          ))}
        </Bar>
        <Scatter data={errs} shape={() => <g />} isAnimationActive={false}>
          <ErrorBar dataKey="err" direction="y" width={4} stroke="#555" strokeWidth={0.9} />
        </Scatter>
        <ReferenceLine segment={[{ x: -0.63, y: 1 }, { x: 12.94, y: 1 }]} stroke="#555" />
        <ReferenceLine segment={[{ x: 6, y: 1 - span * 0.05 }, { x: 6, y: 1 + span * 0.05 }]} stroke="#555" />
        <ReferenceLine segment={[{ x: -0.55, y: lineY }, { x: 5.5, y: lineY }]} stroke="#555" ifOverflow="visible" />
        <ReferenceLine segment={[{ x: 6.43, y: lineY }, { x: 12.55, y: lineY }]} stroke="#555" ifOverflow="visible" />
        <Scatter data={pts} shape={dotShape} isAnimationActive={false} />
      </ComposedChart>
    </Abs>
  );
}

function PanelG() {
  return (
    <>
      <Tx x={373} y={677} s={16} b>g</Tx>
      <FoldPanel top={694} bottom={779} domainY={[0, 5]} ticksY={[0, 1, 2, 3, 4, 5]} m24={rbMean24} m96={rbMean96} e24={rbErr24} e96={rbErr96} r24={rbReps24} r96={rbReps96} lineY={-0.12} />
      <FoldPanel top={831} bottom={917} domainY={[0, 2]} ticksY={[0, 0.5, 1, 1.5, 2]} m24={sfMean24} m96={sfMean96} e24={sfErr24} e96={sfErr96} r24={sfReps24} r96={sfReps96} lineY={-0.07} />
      <Tx x={520} y={693} s={14} a="middle">RBFOX2 knockdown</Tx>
      <Tx x={522} y={832} s={14} a="middle">SRSF7 knockdown</Tx>
      <Tx x={476} y={792} s={14} a="middle">24 hours</Tx>
      <Tx x={565} y={792} s={14} a="middle">96 hours</Tx>
      <Tx x={520} y={807} s={14} a="middle">Time post electroporation</Tx>
      <Tx x={476} y={930} s={14} a="middle">24 hours</Tx>
      <Tx x={565} y={930} s={14} a="middle">96 hours</Tx>
      <Tx x={520} y={945} s={14} a="middle">Time post electroporation</Tx>
      <Tx x={377} y={817} s={14} a="middle" r={-90}>Fold change of expression</Tx>
      <Tx x={394} y={735} s={14} a="middle" r={-90}>(siRB #6/siMM)</Tx>
      <Tx x={394} y={872} s={14} a="middle" r={-90}>(siSF #8/siMM)</Tx>
      {amplicons.map((n, i) => (
        <React.Fragment key={n}>
          <Sq x={618} y={690 + i * 14.5} c={ampColors[i]} />
          <Tx x={630} y={690 + i * 14.5} s={12.5}>– {n}</Tx>
        </React.Fragment>
      ))}
    </>
  );
}

// ---------- e
const heatTick = (p: any) => (
  <text
    transform={`translate(${p.x},${p.y + 2}) rotate(-90)`}
    textAnchor="end"
    dy="0.36em"
    fontSize={12.5}
    fontStyle="italic"
    fontFamily={FONT}
    fill={INK}
  >
    {heatCols[Math.round(p.payload.value)]}
  </text>
);
const barTick = (p: any) => {
  const v = p.payload.value;
  return (
    <text x={p.x + (v > 0.3 ? -3 : v < -0.3 ? 1 : 0)} y={p.y} textAnchor="middle" fontSize={12.5} fontFamily={FONT} fill={INK}>
      {v === 0 ? "0" : v.toFixed(1)}
    </text>
  );
};

function PanelE() {
  const cols = [heatSRSF7, heatRBFOX2, heatPTK2];
  const cells = heatRows.flatMap((_, ri) => cols.map((c, ci) => ({ x: ci, y: ri, v: c[ri] })));
  return (
    <>
      <Tx x={640} y={462} s={16} b>e</Tx>
      <Abs x={650} y={481}>
        <ComposedChart width={75} height={22} margin={M0}>
          <XAxis
            orientation="top"
            type="number"
            dataKey="x"
            domain={[-0.4, 0.4]}
            allowDataOverflow
            ticks={[-0.4, 0, 0.4]}
            interval={0}
            height={14}
            tickSize={3}
            tickMargin={1}
            stroke={AXIS}
            tick={barTick}
          />
          <YAxis hide type="number" dataKey="y" domain={[0, 1]} allowDataOverflow />
          <ReferenceArea x1={-0.4} x2={0.4} y1={0} y2={1} fill="url(#heatBar)" fillOpacity={1} stroke="none" />
        </ComposedChart>
      </Abs>
      <Abs x={635} y={510}>
        <ComposedChart width={97.5} height={140} margin={M0}>
          <XAxis
            type="number"
            dataKey="x"
            domain={[-0.5, 3.9]}
            allowDataOverflow
            ticks={[0, 1, 2]}
            interval={0}
            height={50}
            axisLine={false}
            tickLine={false}
            tick={heatTick}
          />
          <YAxis
            type="number"
            dataKey="y"
            width={30}
            domain={[-0.5, 5.5]}
            reversed
            allowDataOverflow
            ticks={[0, 1, 2, 3, 4, 5]}
            interval={0}
            axisLine={false}
            tickLine={false}
            tickMargin={4}
            tickFormatter={(v: number) => heatRows[Math.round(v)]}
            tick={tickStyle(12.5)}
          />
          <Scatter
            data={cells}
            shape={(p: any) => <rect x={p.cx - 7.67} y={p.cy - 7.5} width={15.34} height={15} fill={heatColor(p.payload.v)} />}
            isAnimationActive={false}
          />
          {dendroSegs.map((s, i) => (
            <ReferenceLine key={i} segment={[{ x: s[0], y: s[1] }, { x: s[2], y: s[3] }]} stroke="#444" strokeWidth={0.8} />
          ))}
        </ComposedChart>
      </Abs>
    </>
  );
}

export default function App() {
  return (
    <div
      style={{
        position: "absolute",
        left: 0,
        top: 0,
        width: 732,
        height: 953,
        background: "#fff",
        fontFamily: FONT,
        color: INK,
        overflow: "hidden",
      }}
    >
      <style>{`svg.recharts-surface{overflow:visible}`}</style>
      <Defs />
      <Shading />
      <PanelA />
      <PanelF />
      <PanelB />
      <PanelC />
      <PanelD />
      <PanelE />
      <PanelG />
    </div>
  );
}
